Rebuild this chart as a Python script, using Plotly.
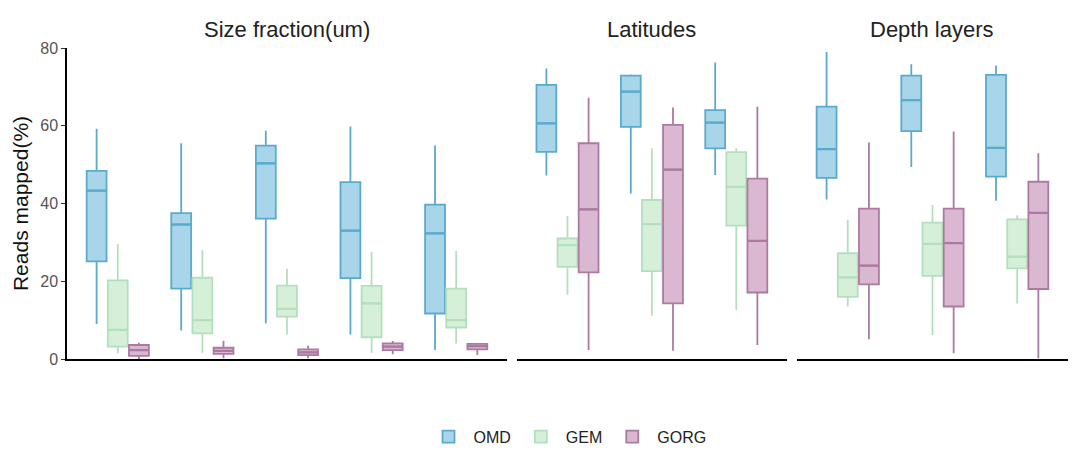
import plotly.graph_objects as go

# facets and their groups (x labels are not shown in the figure)
size_groups = ["0.22-1.6", "0.22-3", "0.8-5", "5-20", "20-180"]
lat_groups = ["Low", "Mid", "High"]
depth_groups = ["SRF", "DCM", "MES"]

# box stats per method: [lower whisker, q1, median, q3, upper whisker]
omd_size = {"low": [9.0, 7.3, 9.2, 6.3, 2.3], "q1": [25.1, 18.1, 36.1, 20.8, 11.7],
            "med": [43.3, 34.6, 50.3, 33.0, 32.3], "q3": [48.4, 37.5, 54.9, 45.5, 39.7],
            "high": [59.2, 55.5, 58.7, 59.8, 54.9]}
gem_size = {"low": [1.5, 1.6, 6.3, 1.6, 4.0], "q1": [3.2, 6.6, 10.9, 5.6, 8.1],
            "med": [7.5, 10.0, 12.9, 14.3, 10.0], "q3": [20.2, 20.9, 18.9, 18.8, 18.1],
            "high": [29.5, 28.0, 23.2, 27.6, 27.8]}
gorg_size = {"low": [0.0, 0.2, 0.2, 1.2, 1.0], "q1": [0.8, 1.3, 1.0, 2.3, 2.5],
             "med": [2.3, 2.1, 1.7, 3.2, 3.3], "q3": [3.6, 2.9, 2.5, 4.0, 3.9],
             "high": [4.2, 4.7, 3.4, 4.6, 4.0]}

omd_lat = {"low": [47.2, 42.6, 47.3], "q1": [53.3, 59.7, 54.2], "med": [60.6, 68.8, 60.8],
           "q3": [70.5, 72.9, 64.0], "high": [74.7, 73.2, 76.3]}
gem_lat = {"low": [16.5, 11.1, 12.6], "q1": [23.7, 22.6, 34.3], "med": [29.3, 34.7, 44.3],
           "q3": [31.0, 40.9, 53.2], "high": [36.8, 54.2, 54.2]}
gorg_lat = {"low": [2.3, 2.1, 3.6], "q1": [22.3, 14.3, 17.1], "med": [38.5, 48.7, 30.4],
            "q3": [55.5, 60.2, 46.4], "high": [67.2, 64.7, 64.9]}

omd_depth = {"low": [41.0, 49.4, 40.7], "q1": [46.6, 58.6, 46.9], "med": [54.0, 66.6, 54.3],
             "q3": [64.9, 72.9, 73.1], "high": [79.0, 75.8, 75.5]}
gem_depth = {"low": [13.5, 6.2, 14.3], "q1": [16.0, 21.4, 23.3], "med": [21.0, 29.6, 26.3],
             "q3": [27.2, 35.1, 35.9], "high": [35.8, 39.6, 37.0]}
gorg_depth = {"low": [5.1, 1.5, 0.2], "q1": [19.2, 13.5, 18.0], "med": [24.0, 29.8, 37.6],
              "q3": [38.7, 38.7, 45.6], "high": [55.7, 58.5, 52.9]}

methods = ["OMD", "GEM", "GORG"]
fills = {"OMD": "#a9d5ea", "GEM": "#d6efd9", "GORG": "#dbb8d2"}
lines = {"OMD": "#5aaacb", "GEM": "#b4dfbd", "GORG": "#ac7aa0"}

facets = [
    ("x", "y", size_groups, [omd_size, gem_size, gorg_size]),
    ("x2", "y2", lat_groups, [omd_lat, gem_lat, gorg_lat]),
    ("x3", "y3", depth_groups, [omd_depth, gem_depth, gorg_depth]),
]

fig = go.Figure()
for i, (xa, ya, cats, stats) in enumerate(facets):
    for m, s in zip(methods, stats):
        fig.add_trace(go.Box(
            x=cats, q1=s["q1"], median=s["med"], q3=s["q3"],
            lowerfence=s["low"], upperfence=s["high"],
            name=m, legendgroup=m, showlegend=(i == 0), offsetgroup=m,
            fillcolor=fills[m], line=dict(color=lines[m], width=1.8),
            whiskerwidth=0, boxpoints=False, xaxis=xa, yaxis=ya,
        ))
        # thicker median line, drawn as a flat box on the same slot
        fig.add_trace(go.Box(
            x=cats, q1=s["med"], median=s["med"], q3=s["med"],
            lowerfence=s["med"], upperfence=s["med"],
            name=m, legendgroup=m, showlegend=False, offsetgroup=m,
            fillcolor=lines[m], line=dict(color=lines[m], width=2.2),
            whiskerwidth=0, boxpoints=False, hoverinfo="skip", xaxis=xa, yaxis=ya,
        ))

domains = [[0, 0.4395], [0.4494, 0.7192], [0.7292, 1.0]]
titles = ["Size fraction(um)", "Latitudes", "Depth layers"]
ncat = [len(size_groups), len(lat_groups), len(depth_groups)]

layout = dict(
    width=1080, height=473,
    margin=dict(l=52, r=20, t=40, b=122),
    paper_bgcolor="white", plot_bgcolor="white",
    boxmode="group", boxgap=0.25, boxgroupgap=0.06,
    font=dict(family="Liberation Sans, Arial, sans-serif", color="#222"),
    legend=dict(orientation="h", x=0.5, xanchor="center", y=-0.25, yanchor="middle",
                font=dict(size=16, color="#222"), itemwidth=40),
    showlegend=True,
)
annotations = []
for i in range(3):
    key = "xaxis" if i == 0 else f"xaxis{i+1}"
    ykey = "yaxis" if i == 0 else f"yaxis{i+1}"
    layout[key] = dict(domain=domains[i], type="category", range=[-0.6, ncat[i] - 0.4],
                       showticklabels=False, ticks="", showline=True, linecolor="black",
                       linewidth=1.5, showgrid=False, zeroline=False,
                       anchor="y" if i == 0 else f"y{i+1}")
    layout[ykey] = dict(range=[0, 80], showgrid=False, zeroline=False,
                        anchor="x" if i == 0 else f"x{i+1}")
    if i == 0:
        layout[ykey].update(showline=True, linecolor="black", linewidth=1.5,
                            ticks="outside", ticklen=4, tickcolor="#333",
                            tickvals=[0, 20, 40, 60, 80],
                            tickfont=dict(size=16, color="#555"),
                            title=dict(text="Reads mapped(%)", font=dict(size=21, color="#111"),
                                       standoff=6))
    else:
        layout[ykey].update(showticklabels=False, showline=False, ticks="", matches="y")
    annotations.append(dict(text=titles[i], xref="paper", yref="paper",
                            x=(domains[i][0] + domains[i][1]) / 2, y=1.0,
                            xanchor="center", yanchor="bottom", yshift=4,
                            showarrow=False, font=dict(size=22, color="#222")))
layout["annotations"] = annotations
fig.update_layout(**layout)

fig.write_html("out.html")
